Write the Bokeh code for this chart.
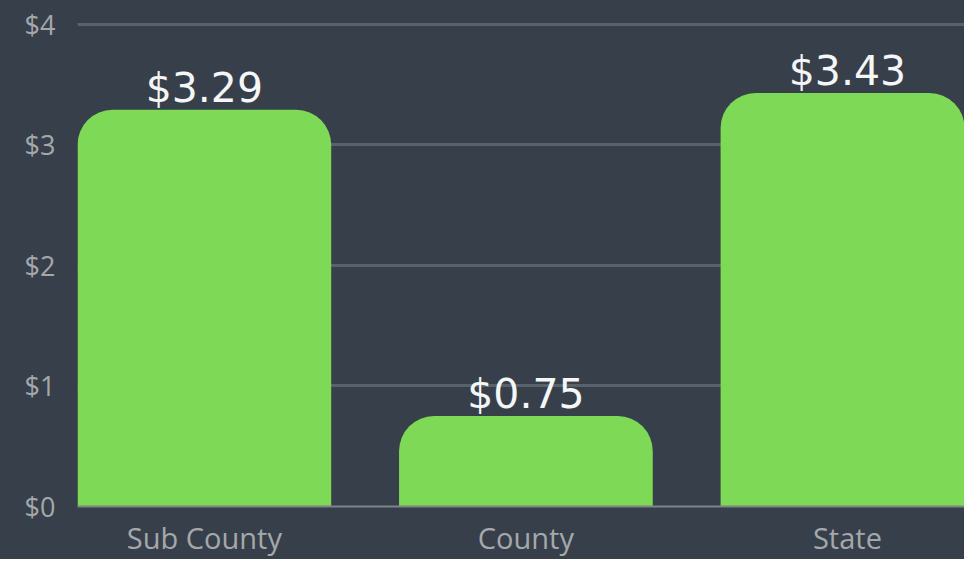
from bokeh.plotting import figure
from bokeh.models import Range1d, FixedTicker, ColumnDataSource
from bokeh.core.properties import value
from bokeh.embed import file_html
from bokeh.resources import INLINE

categories = ["Sub County", "County", "State"]
values = [3.29, 0.75, 3.43]
value_labels = ["$3.29", "$0.75", "$3.43"]
y_ticks = [0, 1, 2, 3, 4]
y_tick_labels = ["$0", "$1", "$2", "$3", "$4"]

BG = "#37404a"
GREEN = "#7ed957"
LABEL = "#a5a8ab"

W, H = 964, 559
FRAME_BOTTOM = 507
xs = list(range(len(categories)))

p = figure(width=W, height=H, output_backend="svg", toolbar_location=None,
           x_range=Range1d(-0.3945, 2.364), y_range=Range1d(0, 4.197),
           background_fill_color=BG, border_fill_color=BG,
           min_border_left=77, min_border_right=0, min_border_top=0,
           min_border_bottom=H - FRAME_BOTTOM)
p.styles = {"background-color": BG}
p.outline_line_color = None

src = ColumnDataSource(dict(x=xs, top=values, label=value_labels))
p.vbar(x="x", top="top", width=0.789, bottom=0, source=src, fill_color=GREEN,
       line_color=None, border_radius=(35, 35, 0, 0))
p.text(x="x", y="top", text="label", source=src, text_align="center",
       text_baseline="alphabetic", y_offset=-22, text_color="#f4f6f8",
       text_font=value("DejaVu Sans"), text_font_size="41px")

p.xgrid.visible = False
p.ygrid.grid_line_color = "#59616a"
p.ygrid.grid_line_width = 3
p.ygrid.ticker = FixedTicker(ticks=y_ticks)

p.yaxis.ticker = FixedTicker(ticks=y_ticks)
p.yaxis.major_label_overrides = {t: l for t, l in zip(y_ticks, y_tick_labels)}
p.yaxis.axis_line_color = None
p.yaxis.major_tick_line_color = None
p.yaxis.major_tick_out = 0
p.yaxis.major_tick_in = 0
p.yaxis.minor_tick_line_color = None
p.yaxis.minor_tick_out = 0
p.yaxis.major_label_standoff = 22
p.yaxis.major_label_text_color = LABEL
p.yaxis.major_label_text_font = "Open Sans"
p.yaxis.major_label_text_font_size = "27px"

p.xaxis.ticker = FixedTicker(ticks=xs)
p.xaxis.major_label_overrides = {x: c for x, c in zip(xs, categories)}
p.xaxis.axis_line_color = "#7f8388"
p.xaxis.axis_line_width = 2
p.xaxis.major_tick_line_color = None
p.xaxis.major_tick_out = 0
p.xaxis.major_tick_in = 0
p.xaxis.minor_tick_line_color = None
p.xaxis.minor_tick_out = 0
p.xaxis.major_label_standoff = 11
p.xaxis.major_label_text_color = LABEL
p.xaxis.major_label_text_font = "Open Sans"
p.xaxis.major_label_text_font_size = "29px"

open("out.html", "w").write(file_html(p, INLINE))
